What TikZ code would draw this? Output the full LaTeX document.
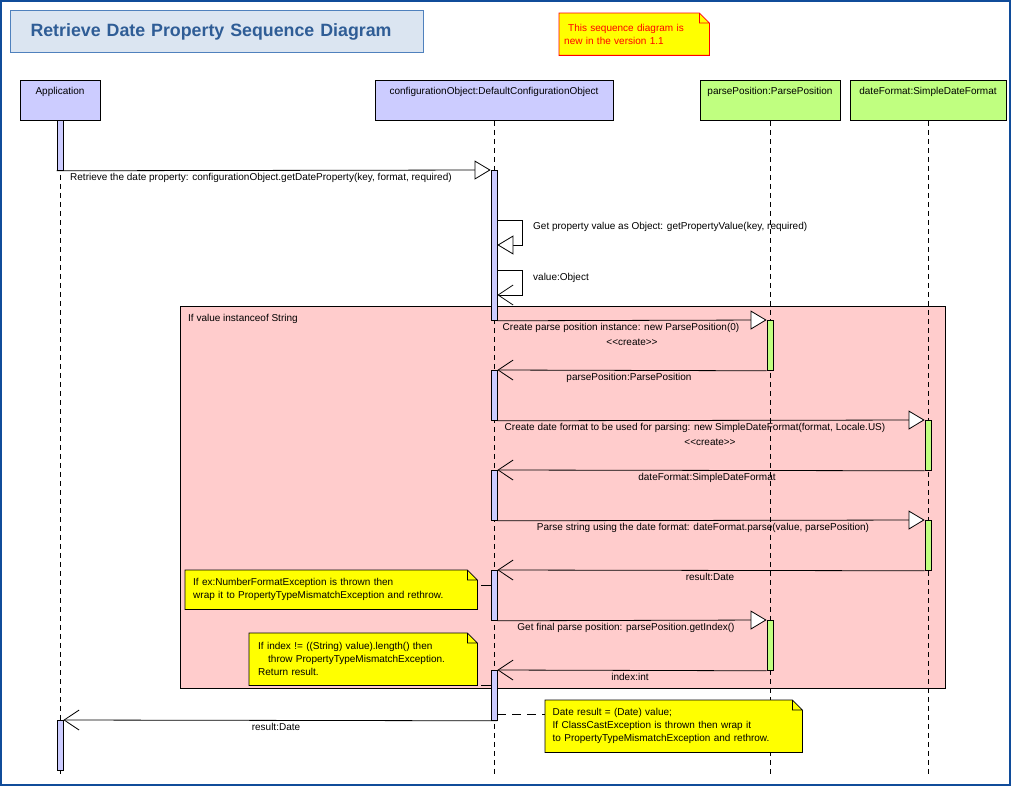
\documentclass[tikz,border=0pt]{standalone}
\usepackage{fontspec}
\setmainfont{Liberation Sans}
\usetikzlibrary{arrows.meta}

\definecolor{lifeblue}{RGB}{204,204,255}
\definecolor{lifegreen}{RGB}{192,255,128}
\definecolor{altpink}{RGB}{255,204,204}
\definecolor{noteyellow}{RGB}{255,255,0}
\definecolor{edgeblue}{RGB}{16,76,154}
\definecolor{titlefill}{RGB}{219,229,241}
\definecolor{titleline}{RGB}{79,129,189}
\definecolor{titletext}{RGB}{47,93,150}

\newcommand\dgmfont{\fontsize{10}{13}\selectfont}
% outline of a note with its folded corner
\newcommand\foldnote[2]{%
  \draw[#2, line width=0.8pt] (#1.north west) -- ([xshift=-10pt]#1.north east) -- ([yshift=-10pt]#1.north east)
    -- (#1.south east) -- (#1.south west) -- cycle
    ([xshift=-10pt]#1.north east) |- ([yshift=-10pt]#1.north east);}

\tikzset{
  every node/.style={font=\dgmfont, inner sep=0pt},
  titlebox/.style={anchor=north west, draw=titleline, fill=titlefill, line width=1pt, minimum height=42pt,
    text width=373pt, inner xsep=20pt, align=left, text=titletext, font=\fontsize{17.8}{22}\selectfont\bfseries},
  head/.style={draw, line width=0.8pt, fill=#1, anchor=north, minimum height=40pt, text height=14pt, text depth=26pt},
  actbar/.style={draw, line width=0.8pt, fill=#1, anchor=north, minimum width=6pt},
  lifeline/.style={line width=0.8pt, dash pattern=on 5pt off 4pt},
  call/.style={line width=0.8pt, -{Triangle[length=16pt,width=19pt,fill=white]}},
  reply/.style={line width=0.8pt, -{Straight Barb[length=15pt,width=20pt]}},
  notelink/.style={line width=0.8pt, dash pattern=on 9pt off 6pt},
  msg/.style={anchor=mid},
  msgl/.style={anchor=mid west},
  note/.style={anchor=north west, align=left, inner xsep=8pt, inner ysep=0pt,
    path picture={\fill[#1] (path picture bounding box.north west) -- ([xshift=-10pt]path picture bounding box.north east)
      -- ([yshift=-10pt]path picture bounding box.north east) -- (path picture bounding box.south east)
      -- (path picture bounding box.south west) -- cycle;}},
}

\begin{document}
\begin{tikzpicture}[x=1pt,y=-1pt]
  \useasboundingbox (0,0) rectangle (1011,786);
  \draw[draw=edgeblue, line width=2pt] (1,1) rectangle (1010,785);

  % title and version note
  \node[titlebox] (title) at (10,10) {Retrieve Date Property Sequence Diagram};
  \node[note=noteyellow, text=red, text width=140pt, minimum height=42pt, inner xsep=5pt] (nver) at (559,13)
    {\hspace*{4pt}This sequence diagram is\\new in the version 1.1};
  \foldnote{nver}{red}

  % objects
  \node[head=lifeblue, minimum width=80pt] (app) at (60,80) {Application};
  \node[head=lifeblue, minimum width=238pt] (cfg) at (494,80) {configurationObject:DefaultConfigurationObject};
  \node[head=lifegreen, minimum width=140pt] (pp) at (770,80) {parsePosition:ParsePosition};
  \node[head=lifegreen, minimum width=156pt] (df) at (928,80) {dateFormat:SimpleDateFormat};

  % if fragment
  \draw[fill=altpink, line width=0.8pt] (180,306) rectangle (945,688);
  \node[msgl] (alt) at (188,319) {If value instanceof String};

  % lifelines
  \coordinate (appEnd) at (60,775);
  \coordinate (cfgEnd) at (494,775);
  \coordinate (ppEnd) at (770,775);
  \coordinate (dfEnd) at (928,775);
  \draw[lifeline] (app.south) -- (appEnd);
  \draw[lifeline] (cfg.south) -- (cfgEnd);
  \draw[lifeline] (pp.south) -- (ppEnd);
  \draw[lifeline] (df.south) -- (dfEnd);

  % notes
  \node[note=noteyellow, text width=276pt, minimum height=39pt] (nfe) at (185,570)
    {If ex:NumberFormatException is thrown then\\wrap it to PropertyTypeMismatchException and rethrow.};
  \foldnote{nfe}{black}
  \node[note=noteyellow, text width=210pt, minimum height=52pt, inner xsep=9pt] (nidx) at (249,633)
    {If index != ((String) value).length() then\\\hspace*{10pt}throw PropertyTypeMismatchException.\\Return result.};
  \foldnote{nidx}{black}
  \node[note=noteyellow, text width=242pt, minimum height=52pt, inner xsep=7.5pt] (ncast) at (545,700)
    {Date result = (Date) value;\\If ClassCastException is thrown then wrap it\\to PropertyTypeMismatchException and rethrow.};
  \foldnote{ncast}{black}

  % activations
  \node[actbar=lifeblue, minimum height=50pt] (appA) at (60,120) {};
  \node[actbar=lifeblue, minimum height=50pt] (appB) at (60,720) {};
  \node[actbar=lifeblue, minimum height=150pt] (cfgA1) at (494,170) {};
  \node[actbar=lifeblue, minimum height=50pt] (cfgA2) at (494,370) {};
  \node[actbar=lifeblue, minimum height=50pt] (cfgA3) at (494,470) {};
  \node[actbar=lifeblue, minimum height=50pt] (cfgA4) at (494,570) {};
  \node[actbar=lifeblue, minimum height=50pt] (cfgA5) at (494,670) {};
  \node[actbar=lifegreen, minimum height=50pt] (ppA1) at (770,320) {};
  \node[actbar=lifegreen, minimum height=50pt] (ppA2) at (770,620) {};
  \node[actbar=lifegreen, minimum height=50pt] (dfA1) at (928,420) {};
  \node[actbar=lifegreen, minimum height=50pt] (dfA2) at (928,520) {};

  % note links
  \coordinate (nfeEnd) at (481,585);
  \coordinate (nidxEnd) at (481,685);
  \coordinate (castA) at ([yshift=-44pt]cfgA5.north east);
  \draw[line width=0.8pt] (nfeEnd) -- (nfeEnd -| cfgA4.west);
  \draw[line width=0.8pt] (nidxEnd) -- (nidxEnd -| cfgA5.west);
  \draw[notelink] (castA) -- (castA -| ncast.west);

  % messages
  \draw[call] (appA.south west) -- (cfgA1.north west);
  \node[msgl] (m1) at (70,178) {Retrieve the date property: configurationObject.getDateProperty(key, format, required)};
  \draw[call] ([yshift=-50pt]cfgA1.north east) -- ++(25,0) -- ++(0,25) -- ([yshift=-75pt]cfgA1.north east);
  \node[msgl] (m2) at (533,227) {Get property value as Object: getPropertyValue(key, required)};
  \draw[reply] ([yshift=-100pt]cfgA1.north east) -- ++(25,0) -- ++(0,25) -- ([yshift=-125pt]cfgA1.north east);
  \node[msgl] (m3) at (533,278) {value:Object};
  \draw[call] (cfgA1.south east) -- (ppA1.north west);
  \node[msg] (m4) at (621,328) {Create parse position instance: new ParsePosition(0)};
  \node[msg] (m4c) at (632,343) {<{}<create>{}>};
  \draw[reply] (ppA1.south west) -- (cfgA2.north east);
  \node[msg] (m5) at (629,378) {parsePosition:ParsePosition};
  \draw[call] (cfgA2.south east) -- (dfA1.north west);
  \node[msg] (m6) at (695,428) {Create date format to be used for parsing: new SimpleDateFormat(format, Locale.US)};
  \node[msg] (m6c) at (710,443) {<{}<create>{}>};
  \draw[reply] (dfA1.south west) -- (cfgA3.north east);
  \node[msg] (m7) at (707,478) {dateFormat:SimpleDateFormat};
  \draw[call] (cfgA3.south east) -- (dfA2.north west);
  \node[msg] (m8) at (703,528) {Parse string using the date format: dateFormat.parse(value, parsePosition)};
  \draw[reply] (dfA2.south west) -- (cfgA4.north east);
  \node[msg] (m9) at (710,578) {result:Date};
  \draw[call] (cfgA4.south east) -- (ppA2.north west);
  \node[msg] (m10) at (626,628) {Get final parse position: parsePosition.getIndex()};
  \draw[reply] (ppA2.south west) -- (cfgA5.north east);
  \node[msg] (m11) at (630,678) {index:int};
  \draw[reply] (cfgA5.south east) -- (appB.north east);
  \node[msg] (m12) at (276,728) {result:Date};
\end{tikzpicture}
\end{document}
